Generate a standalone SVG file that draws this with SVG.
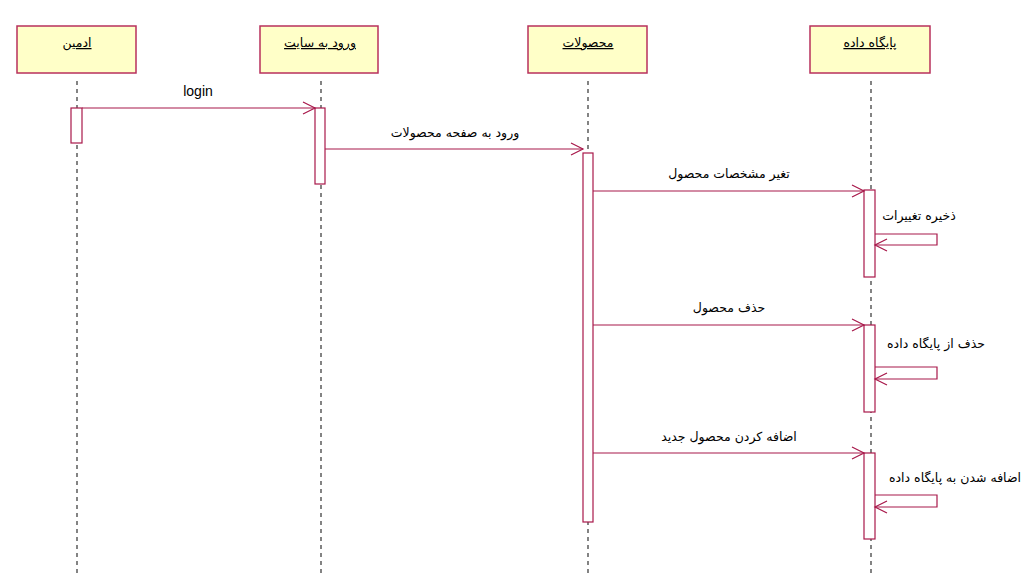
<svg xmlns="http://www.w3.org/2000/svg" width="1031" height="583" viewBox="0 0 1031 583">
<defs>
<style>
.box{fill:#FFFFC8;stroke:#B8305C;stroke-width:1.5}
.life{stroke:#333;stroke-width:1.2;stroke-dasharray:4,4;fill:none}
.act{fill:#fff;stroke:#A8184A;stroke-width:1.2}
.msg{stroke:#A8184A;stroke-width:1.2;fill:none}
.title{font-family:"DejaVu Sans",sans-serif;font-size:12.5px;fill:#000;text-decoration:underline;text-anchor:middle}
.lbl{font-family:"DejaVu Sans",sans-serif;font-size:12.5px;fill:#000;text-anchor:middle}
.lat{font-family:"Liberation Sans",Arial,sans-serif;font-size:14px;fill:#000;text-anchor:middle}
</style>
<marker id="arr" markerUnits="userSpaceOnUse" markerWidth="16" markerHeight="14" refX="13" refY="7" orient="auto">
<path d="M1,1 L13,7 L1,13" fill="none" stroke="#A8184A" stroke-width="1.2"/>
</marker>
</defs>
<rect width="1031" height="583" fill="#fff"/>
<g id="lifelines">
<line class="life" x1="77" y1="81" x2="77" y2="575"/>
<line class="life" x1="321" y1="81" x2="321" y2="575"/>
<line class="life" x1="588" y1="81" x2="588" y2="575"/>
<line class="life" x1="871" y1="81" x2="871" y2="575"/>
</g>
<g id="admin">
<rect class="box" x="17" y="26" width="119" height="47"/>
<text class="title" x="77" y="47">ادمین</text>
</g>
<g id="login">
<rect class="box" x="260" y="26" width="118" height="47"/>
<text class="title" x="320" y="47">ورود به سایت</text>
</g>
<g id="products">
<rect class="box" x="528" y="26" width="119" height="47"/>
<text class="title" x="588" y="47">محصولات</text>
</g>
<g id="database">
<rect class="box" x="810" y="26" width="120" height="47"/>
<text class="title" x="870" y="47">پایگاه داده</text>
</g>
<g id="activations">
<rect class="act" x="71" y="108" width="11" height="35"/>
<rect class="act" x="315" y="108" width="10" height="76"/>
<rect class="act" x="583" y="153" width="10" height="369"/>
<rect class="act" x="864" y="190" width="11" height="87"/>
<rect class="act" x="864" y="325" width="11" height="87"/>
<rect class="act" x="864" y="453" width="11" height="86"/>
</g>
<g id="connectors">
<line class="msg" x1="82" y1="108" x2="315" y2="108" marker-end="url(#arr)"/>
<line class="msg" x1="325" y1="149" x2="583" y2="149" marker-end="url(#arr)"/>
<line class="msg" x1="593" y1="191" x2="864" y2="191" marker-end="url(#arr)"/>
<polyline class="msg" points="875,234 937,234 937,245 875,245" marker-end="url(#arr)"/>
<line class="msg" x1="593" y1="325" x2="864" y2="325" marker-end="url(#arr)"/>
<polyline class="msg" points="875,367 937,367 937,379 875,379" marker-end="url(#arr)"/>
<line class="msg" x1="593" y1="453" x2="864" y2="453" marker-end="url(#arr)"/>
<polyline class="msg" points="875,495 937,495 937,507 875,507" marker-end="url(#arr)"/>
</g>
<g id="labels">
<text class="lat" x="198" y="96">login</text>
<text class="lbl" x="455" y="137">ورود به صفحه محصولات</text>
<text class="lbl" x="729" y="178">تغیر مشخصات محصول</text>
<text class="lbl" x="919" y="220">ذخیره تغییرات</text>
<text class="lbl" x="729" y="312">حذف محصول</text>
<text class="lbl" x="936" y="348">حذف از پایگاه داده</text>
<text class="lbl" x="729" y="441">اضافه کردن محصول جدید</text>
<text class="lbl" x="955" y="482">اضافه شدن به پایگاه داده</text>
</g>
</svg>
